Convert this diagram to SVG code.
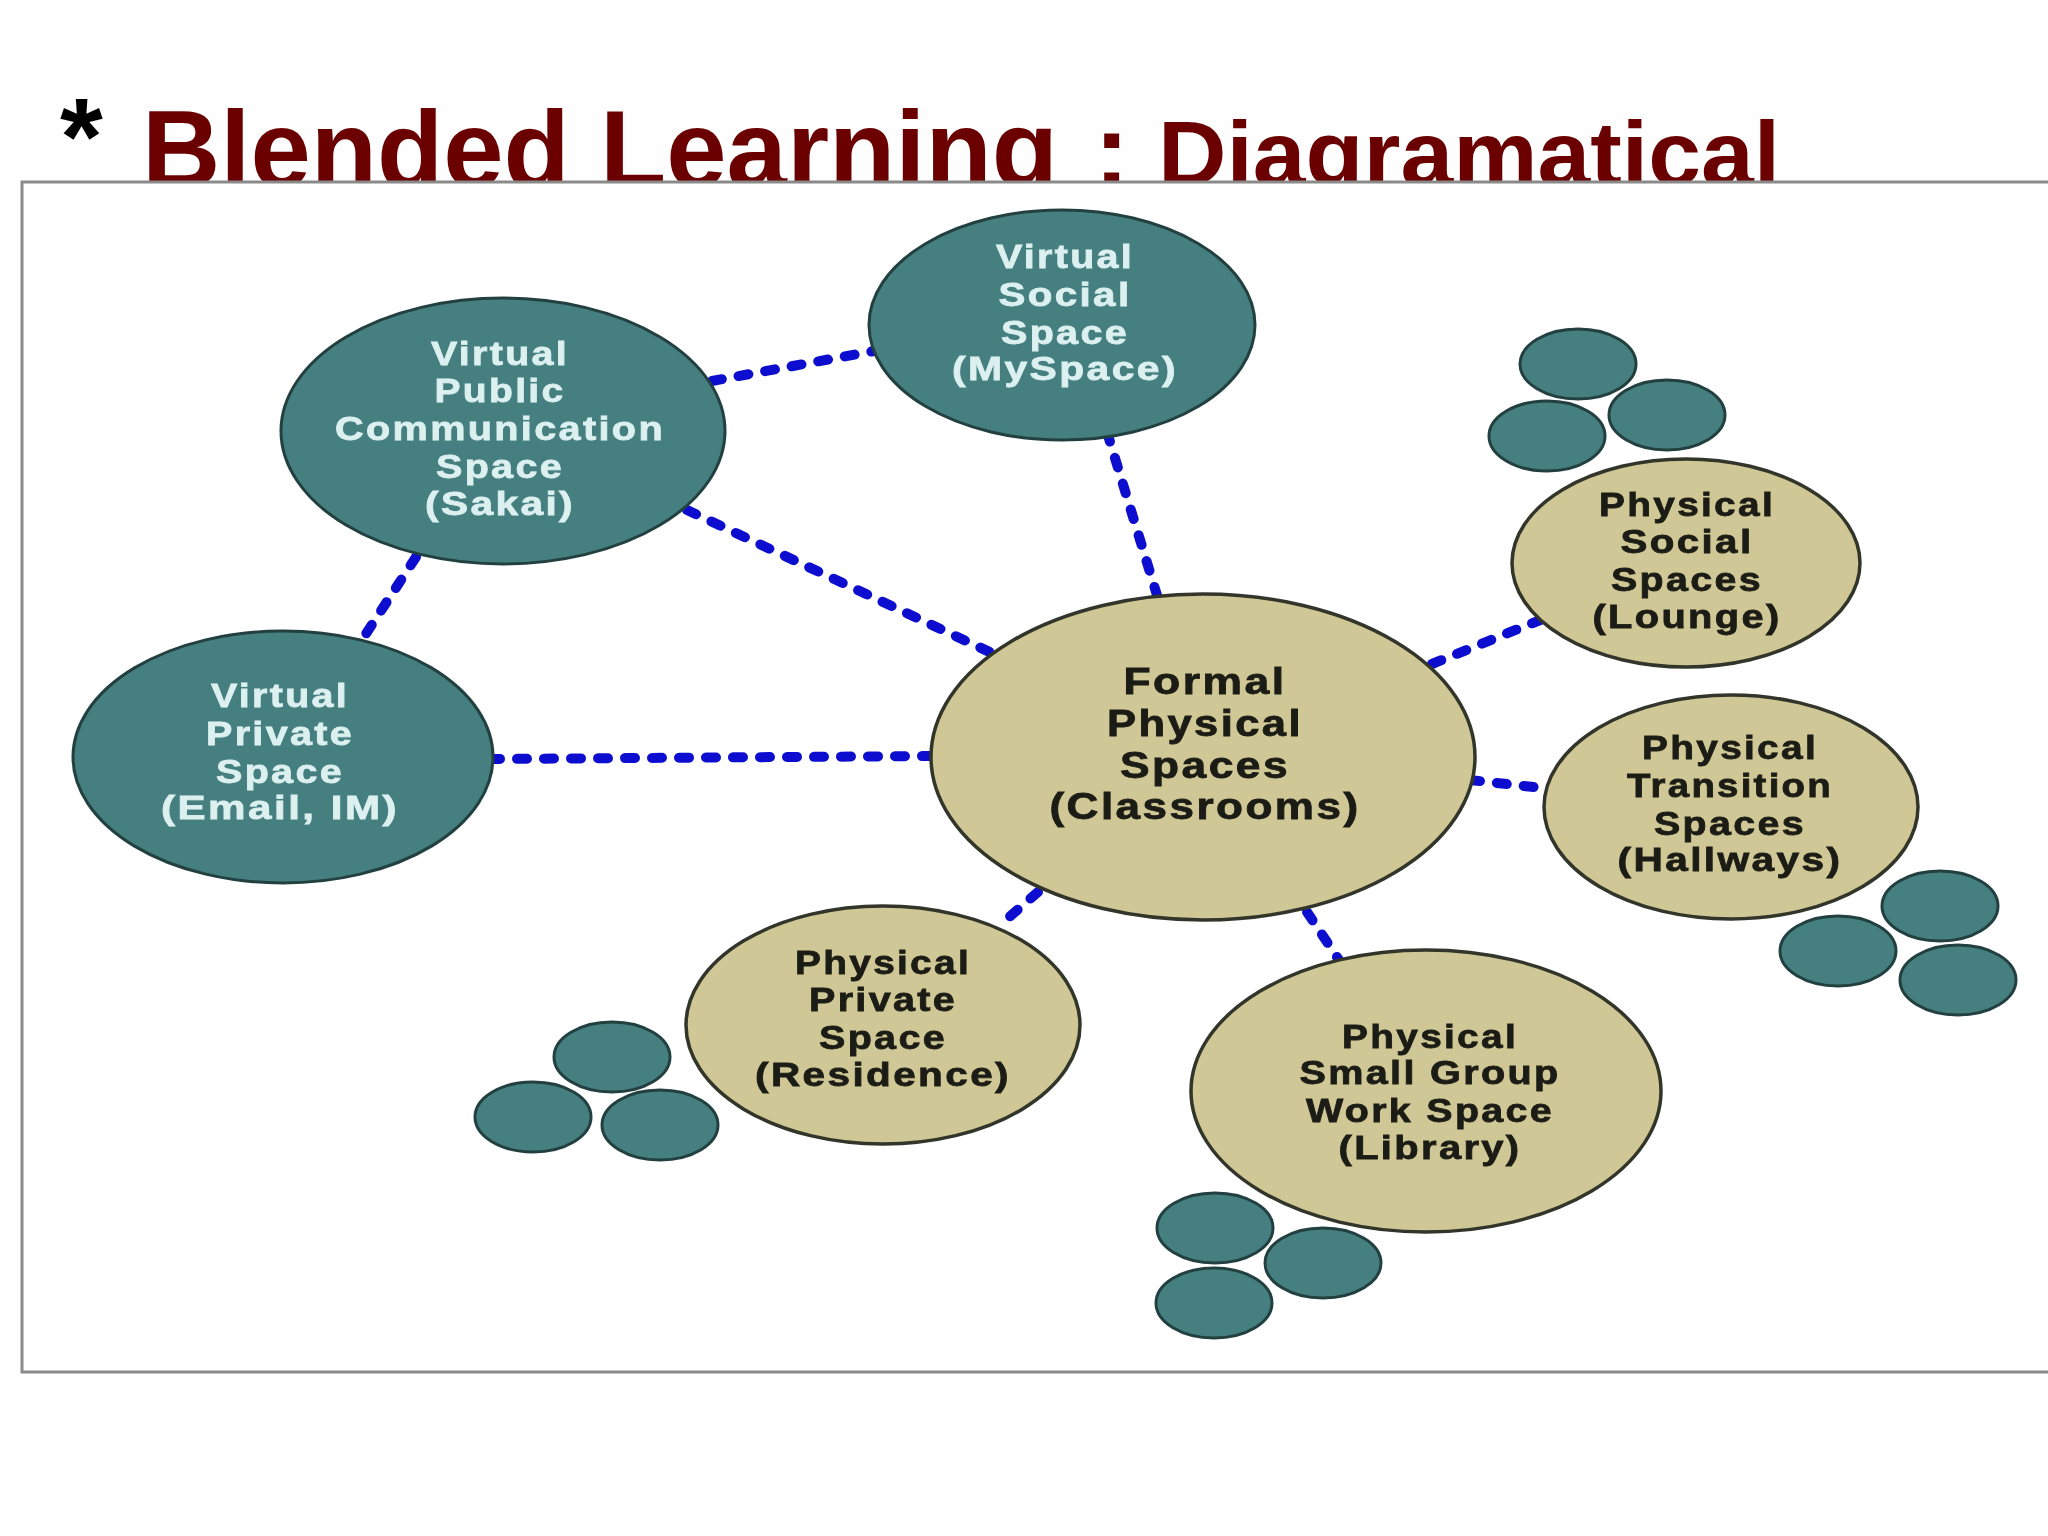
<svg xmlns="http://www.w3.org/2000/svg" width="2048" height="1536" viewBox="0 0 2048 1536">
<style>
.title{font-family:"Liberation Sans",Arial,sans-serif;font-weight:700;fill:#6a0000}
.v,.p,.f{font-family:"Liberation Sans",Arial,sans-serif;font-weight:700;text-anchor:middle;font-size:34px;letter-spacing:2px;stroke-width:.8px}
.v{fill:#dcf0f0;stroke:#dcf0f0}
.p,.f{fill:#1c1c14;stroke:#1c1c14}
.f{font-size:36px}
.teal{fill:#457f80;stroke:#24403f;stroke-width:3}
.tan{fill:#cfc795;stroke:#33362a;stroke-width:3.5}
.link{stroke:#1010d0;stroke-width:10;stroke-dasharray:10 17;stroke-linecap:round;fill:none}
</style>
<defs><filter id="soft" x="-5%" y="-5%" width="110%" height="110%"><feGaussianBlur stdDeviation="0.7"/></filter></defs>
<rect width="2048" height="1536" fill="#fefefe"/>
<g id="title">
<text class="title" x="60" y="174" font-size="110" style="fill:#000">*</text>
<text class="title" x="142" y="187" font-size="110" textLength="916" lengthAdjust="spacingAndGlyphs">Blended Learning</text>
<text class="title" x="1094" y="187" font-size="106">:</text>
<text class="title" x="1158" y="185" font-size="90" textLength="622" lengthAdjust="spacingAndGlyphs">Diagramatical</text>
</g>
<rect id="panel" x="22" y="182" width="2060" height="1190" fill="#fff" stroke="#8a8a8a" stroke-width="3"/>
<g filter="url(#soft)">
<g id="connectors">
<line class="link" x1="712" y1="381" x2="885" y2="349"/>
<line class="link" x1="1107" y1="432" x2="1160" y2="605"/>
<line class="link" x1="687" y1="510" x2="996" y2="655"/>
<line class="link" x1="416" y1="557" x2="358" y2="646"/>
<line class="link" x1="490" y1="759" x2="935" y2="756"/>
<line class="link" x1="1432" y1="664" x2="1545" y2="618"/>
<line class="link" x1="1470" y1="780" x2="1560" y2="790"/>
<line class="link" x1="1038" y1="892" x2="999" y2="926"/>
<line class="link" x1="1307" y1="912" x2="1345" y2="969"/>
</g>
<g id="virtual-social">
<ellipse class="teal" cx="1062" cy="325" rx="193" ry="115"/>
<text class="v" x="1065" y="268" textLength="138" lengthAdjust="spacingAndGlyphs">Virtual</text>
<text class="v" x="1065" y="306" textLength="133" lengthAdjust="spacingAndGlyphs">Social</text>
<text class="v" x="1065" y="344" textLength="128" lengthAdjust="spacingAndGlyphs">Space</text>
<text class="v" x="1065" y="380" textLength="226" lengthAdjust="spacingAndGlyphs">(MySpace)</text>
</g>
<g id="virtual-public">
<ellipse class="teal" cx="503" cy="431" rx="222" ry="133"/>
<text class="v" x="500" y="365" textLength="138" lengthAdjust="spacingAndGlyphs">Virtual</text>
<text class="v" x="500" y="402" textLength="131" lengthAdjust="spacingAndGlyphs">Public</text>
<text class="v" x="500" y="440" textLength="330" lengthAdjust="spacingAndGlyphs">Communication</text>
<text class="v" x="500" y="478" textLength="128" lengthAdjust="spacingAndGlyphs">Space</text>
<text class="v" x="500" y="515" textLength="150" lengthAdjust="spacingAndGlyphs">(Sakai)</text>
</g>
<g id="virtual-private">
<ellipse class="teal" cx="283" cy="757" rx="210" ry="126"/>
<text class="v" x="280" y="707" textLength="138" lengthAdjust="spacingAndGlyphs">Virtual</text>
<text class="v" x="280" y="745" textLength="148" lengthAdjust="spacingAndGlyphs">Private</text>
<text class="v" x="280" y="783" textLength="128" lengthAdjust="spacingAndGlyphs">Space</text>
<text class="v" x="280" y="819" textLength="238" lengthAdjust="spacingAndGlyphs">(Email, IM)</text>
</g>
<g id="formal">
<ellipse class="tan" cx="1203" cy="757" rx="272" ry="163"/>
<text class="f" x="1205" y="694" textLength="163" lengthAdjust="spacingAndGlyphs">Formal</text>
<text class="f" x="1205" y="736" textLength="196" lengthAdjust="spacingAndGlyphs">Physical</text>
<text class="f" x="1205" y="778" textLength="170" lengthAdjust="spacingAndGlyphs">Spaces</text>
<text class="f" x="1205" y="819" textLength="311" lengthAdjust="spacingAndGlyphs">(Classrooms)</text>
</g>
<g id="physical-social">
<ellipse class="tan" cx="1686" cy="563" rx="174" ry="104"/>
<text class="p" x="1687" y="516" textLength="176" lengthAdjust="spacingAndGlyphs">Physical</text>
<text class="p" x="1687" y="553" textLength="133" lengthAdjust="spacingAndGlyphs">Social</text>
<text class="p" x="1687" y="591" textLength="152" lengthAdjust="spacingAndGlyphs">Spaces</text>
<text class="p" x="1687" y="628" textLength="189" lengthAdjust="spacingAndGlyphs">(Lounge)</text>
</g>
<g id="physical-social-cluster">
<ellipse class="teal" cx="1578" cy="364" rx="58" ry="35"/>
<ellipse class="teal" cx="1667" cy="415" rx="58" ry="35"/>
<ellipse class="teal" cx="1547" cy="436" rx="58" ry="35"/>
</g>
<g id="physical-transition">
<ellipse class="tan" cx="1731" cy="807" rx="187" ry="112"/>
<text class="p" x="1730" y="759" textLength="176" lengthAdjust="spacingAndGlyphs">Physical</text>
<text class="p" x="1730" y="797" textLength="206" lengthAdjust="spacingAndGlyphs">Transition</text>
<text class="p" x="1730" y="835" textLength="152" lengthAdjust="spacingAndGlyphs">Spaces</text>
<text class="p" x="1730" y="871" textLength="225" lengthAdjust="spacingAndGlyphs">(Hallways)</text>
</g>
<g id="physical-transition-cluster">
<ellipse class="teal" cx="1940" cy="906" rx="58" ry="35"/>
<ellipse class="teal" cx="1838" cy="951" rx="58" ry="35"/>
<ellipse class="teal" cx="1958" cy="980" rx="58" ry="35"/>
</g>
<g id="physical-private">
<ellipse class="tan" cx="883" cy="1025" rx="197" ry="119"/>
<text class="p" x="883" y="974" textLength="176" lengthAdjust="spacingAndGlyphs">Physical</text>
<text class="p" x="883" y="1011" textLength="148" lengthAdjust="spacingAndGlyphs">Private</text>
<text class="p" x="883" y="1049" textLength="128" lengthAdjust="spacingAndGlyphs">Space</text>
<text class="p" x="883" y="1086" textLength="256" lengthAdjust="spacingAndGlyphs">(Residence)</text>
</g>
<g id="physical-private-cluster">
<ellipse class="teal" cx="612" cy="1057" rx="58" ry="35"/>
<ellipse class="teal" cx="533" cy="1117" rx="58" ry="35"/>
<ellipse class="teal" cx="660" cy="1125" rx="58" ry="35"/>
</g>
<g id="physical-small-group">
<ellipse class="tan" cx="1426" cy="1091" rx="235" ry="141"/>
<text class="p" x="1430" y="1048" textLength="176" lengthAdjust="spacingAndGlyphs">Physical</text>
<text class="p" x="1430" y="1084" textLength="261" lengthAdjust="spacingAndGlyphs">Small Group</text>
<text class="p" x="1430" y="1122" textLength="248" lengthAdjust="spacingAndGlyphs">Work Space</text>
<text class="p" x="1430" y="1159" textLength="183" lengthAdjust="spacingAndGlyphs">(Library)</text>
</g>
<g id="physical-small-group-cluster">
<ellipse class="teal" cx="1215" cy="1228" rx="58" ry="35"/>
<ellipse class="teal" cx="1323" cy="1263" rx="58" ry="35"/>
<ellipse class="teal" cx="1214" cy="1303" rx="58" ry="35"/>
</g>
</g>
</svg>
